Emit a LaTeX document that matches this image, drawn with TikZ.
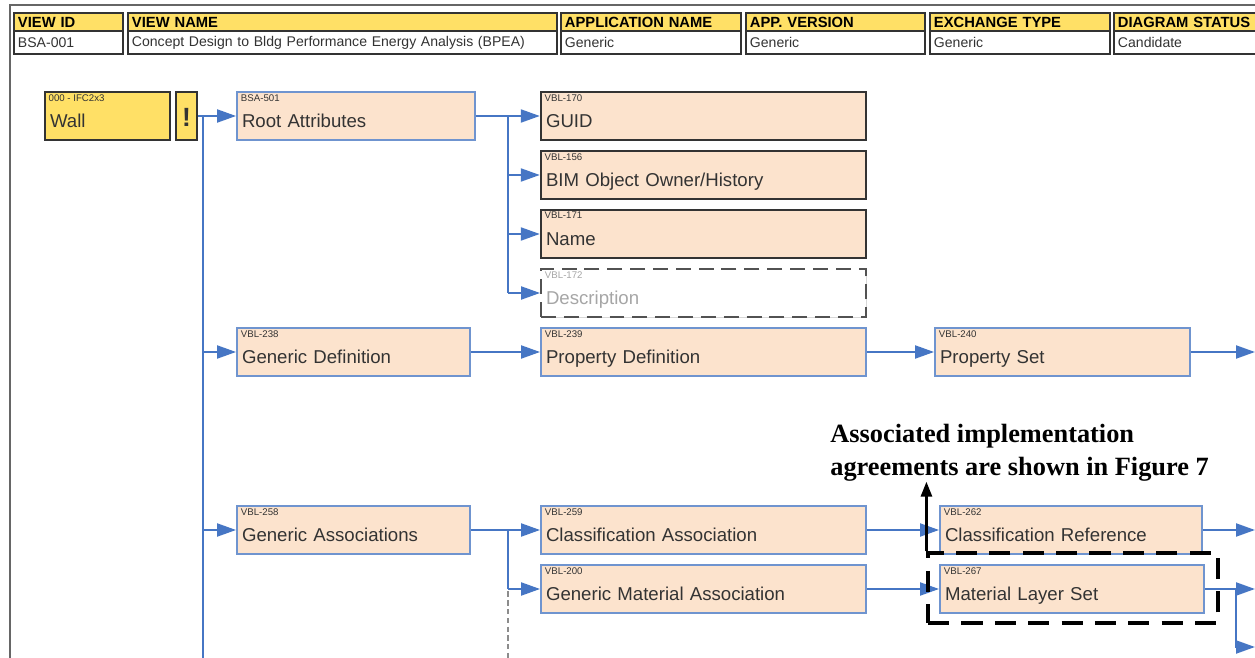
\documentclass[tikz,border=0pt]{standalone}
\usepackage{fontspec}
\setmainfont{Liberation Sans}
\newfontfamily\notefont{Liberation Serif}
\usetikzlibrary{arrows.meta, shadows}

\definecolor{peach}{HTML}{FCE3CD}
\definecolor{gold}{HTML}{FFE066}
\definecolor{linkblue}{HTML}{4676C4}
\definecolor{edgeblue}{HTML}{6F94CF}
\definecolor{ink}{HTML}{333333}

\begin{document}
\begin{tikzpicture}[
  x=0.02cm, y=-0.02cm,
  hdrcell/.style={draw=ink, line width=1.1pt, fill=gold, anchor=north west, align=left,
              minimum height=0.36cm, inner xsep=0.08cm, inner ysep=0pt, text=black,
              font=\bfseries\fontsize{8.4}{9}\selectfont},
  valcell/.style={draw=ink, line width=1.1pt, fill=white, anchor=north west, align=left,
              minimum height=0.46cm, inner xsep=0.08cm, inner ysep=0pt, text=ink,
              font=\fontsize{8}{9}\selectfont},
  box/.style={draw=edgeblue, line width=1.1pt, fill=peach, text=ink, align=left,
              minimum height=0.96cm, inner xsep=0.1cm, text height=13.6pt, text depth=0pt,
              font=\fontsize{10.6}{12}\selectfont,
              drop shadow={shadow xshift=0.5pt, shadow yshift=-0.7pt, fill=black!30}},
  dark/.style={box, draw=ink, line width=1.4pt},
  wallbox/.style={dark, fill=gold},
  ghostbox/.style={box, draw=ink!85, fill=white, text=black!35, dash pattern=on 8.5pt off 4.5pt,
              drop shadow={opacity=0}},
  idtag/.style={anchor=north west, inner xsep=2.6pt, inner ysep=1.8pt, text=ink,
              font=\fontsize{5.5}{6}\selectfont},
  arr/.style={-{Triangle[length=0.38cm, width=0.26cm]}, line width=1.2pt, draw=linkblue},
  link/.style={line width=1.2pt, draw=linkblue},
  trunkline/.style={line width=1.7pt, draw=linkblue},
  ghost/.style={draw=black!45, densely dashed, line width=0.8pt},
  frame/.style={draw=black!60, line width=1.2pt},
  note/.style={align=left, inner sep=0pt, text=black,
              font=\notefont\bfseries\fontsize{15}{18.7}\selectfont},
  notearr/.style={-{Triangle[length=0.3cm, width=0.22cm]}, line width=1.6pt, draw=black},
  agrbox/.style={draw=black, line width=1.8pt, dash pattern=on 12pt off 7pt,
              minimum width=5.8cm, minimum height=1.4cm, inner sep=0pt}
]
  \useasboundingbox (0,0) rectangle (1255,658);
  \clip (0,0) rectangle (1255,658);

  % ========== FRAME ==========
  \draw[frame] (1262,5) -- (10,5) -- (10,665);

  % ========== HEADER TABLE ==========
  \node[valcell, text width=2.02cm] (vid) at (13,30) {BSA-001};
  \node[hdrcell, text width=2.02cm] (hid) at (13,12) {VIEW ID};

  \node[valcell, text width=8.42cm] (vname) at (127,30)
    {Concept Design to Bldg Performance Energy Analysis (BPEA)};
  \node[hdrcell, text width=8.42cm] (hname) at (127,12) {VIEW NAME};

  \node[valcell, text width=3.44cm] (vapp) at (560,30) {Generic};
  \node[hdrcell, text width=3.44cm] (happ) at (560,12) {APPLICATION NAME};

  \node[valcell, text width=3.42cm] (vver) at (745,30) {Generic};
  \node[hdrcell, text width=3.42cm] (hver) at (745,12) {APP. VERSION};

  \node[valcell, text width=3.44cm] (vexc) at (929,30) {Generic};
  \node[hdrcell, text width=3.44cm] (hexc) at (929,12) {EXCHANGE TYPE};

  \node[valcell, text width=3.44cm] (vsta) at (1113,30) {Candidate};
  \node[hdrcell, text width=3.44cm] (hsta) at (1113,12) {DIAGRAM STATUS};

  % ========== ENTITY ==========
  \node[wallbox, text width=2.3cm, label={[idtag]north west:000 - IFC2x3}] (wall)
    at (107.5,116) {Wall};
  \node[wallbox, minimum width=0.42cm, inner xsep=0pt, align=center, text height=12pt,
        font=\bfseries\fontsize{15}{16}\selectfont] (warn) at (186.5,116) {!};

  % ========== ROOT ATTRIBUTES ==========
  \node[box, text width=4.56cm, label={[idtag]north west:BSA-501}] (root)
    at (356,116) {Root Attributes};

  \node[dark, text width=6.3cm, label={[idtag]north west:VBL-170}] (guid)
    at (703.5,116) {GUID};
  \node[dark, text width=6.3cm, label={[idtag]north west:VBL-156}] (owner)
    at (703.5,175) {BIM Object Owner/History};
  \node[dark, text width=6.3cm, label={[idtag]north west:VBL-171}] (name)
    at (703.5,234) {Name};
  \node[ghostbox, text width=6.3cm, label={[idtag, text=black!35]north west:VBL-172}] (descr)
    at (703.5,293) {Description};

  % ========== DEFINITION ROW ==========
  \node[box, text width=4.46cm, label={[idtag]north west:VBL-238}] (gendef)
    at (353.5,352) {Generic Definition};
  \node[box, text width=6.3cm, label={[idtag]north west:VBL-239}] (propdef)
    at (703.5,352) {Property Definition};
  \node[box, text width=4.9cm, label={[idtag]north west:VBL-240}] (propset)
    at (1062.5,352) {Property Set};

  % ========== ASSOCIATION ROWS ==========
  \node[box, text width=4.46cm, label={[idtag]north west:VBL-258}] (genassoc)
    at (353.5,530) {Generic Associations};
  \node[box, text width=6.3cm, label={[idtag]north west:VBL-259}] (classassoc)
    at (703.5,530) {Classification Association};
  \node[box, text width=6.3cm, label={[idtag]north west:VBL-200}] (matassoc)
    at (703.5,589) {Generic Material Association};
  \node[box, text width=5.04cm, label={[idtag]north west:VBL-262}] (classref)
    at (1071,530) {Classification Reference};
  \node[box, text width=5.08cm, label={[idtag]north west:VBL-267}] (layerset)
    at (1072,589) {Material Layer Set};

  % ======== HELPER COORDINATES ========
  \coordinate (trunk) at (203,660);
  \coordinate (rfork) at (508,0);
  \coordinate (fork) at (1236,0);
  \coordinate (rim) at (1255,0);
  \coordinate (lowtip) at (1255,647);

  % ======== ARROWS: TRUNK ========
  \draw[trunkline] (trunk |- root.west) -- (trunk);
  \draw[arr] (warn.east) -- (root.west);
  \draw[arr] (trunk |- gendef.west) -- (gendef.west);
  \draw[arr] (trunk |- genassoc.west) -- (genassoc.west);

  % ======== ARROWS: ROOT ATTRIBUTES ========
  \draw[link] (root.east) -- (rfork |- root.east) -- (rfork |- descr.west);
  \draw[arr] (root.east) -- (guid.west);
  \draw[arr] (rfork |- owner.west) -- (owner.west);
  \draw[arr] (rfork |- name.west) -- (name.west);
  \draw[arr] (rfork |- descr.west) -- (descr.west);

  % ======== ARROWS: DEFINITION ========
  \draw[arr] (gendef) -- (propdef);
  \draw[arr] (propdef) -- (propset);
  \draw[arr] (propset.east) -- (rim |- propset.east);

  % ======== ARROWS: ASSOCIATIONS ========
  \draw[ghost] (rfork |- genassoc.east) -- (rfork |- trunk);
  \draw[link] (genassoc.east) -- (rfork |- genassoc.east) -- (rfork |- matassoc.west);
  \draw[arr] (genassoc) -- (classassoc);
  \draw[arr] (rfork |- matassoc.west) -- (matassoc.west);
  \draw[arr] (classassoc) -- (classref);
  \draw[arr] (matassoc) -- (layerset);
  \draw[arr] (classref.east) -- (rim |- classref.east);
  \draw[link] (layerset.east) -- (fork |- layerset.east);
  \draw[arr] (fork |- layerset.east) -- (rim |- layerset.east);
  \draw[arr] (fork |- layerset.east) |- (lowtip);

  % ========== NOTE ==========
  \node[agrbox] (agr) at (1073,588) {};
  \node[note, anchor=north west] (agrnote) at (830,424)
    {Associated implementation\\agreements are shown in Figure 7};
  \draw[notearr] (agr.north west) -- (agr.north west |- agrnote.south);

\end{tikzpicture}
\end{document}
